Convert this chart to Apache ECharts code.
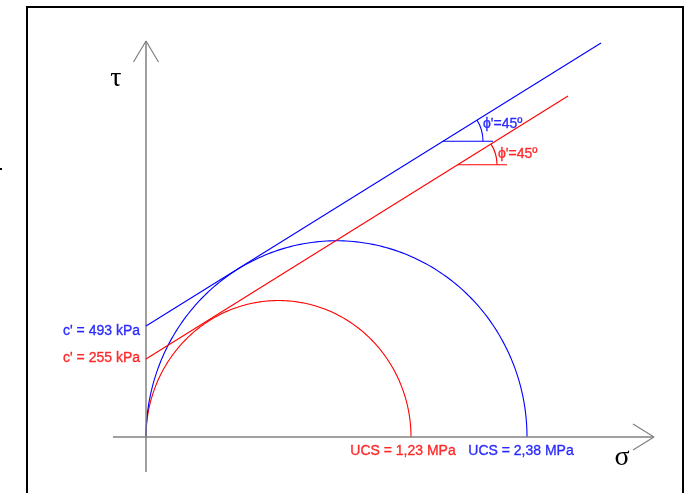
<!DOCTYPE html>
<html><head><meta charset="utf-8">
<style>html,body{margin:0;padding:0;background:#fff}#c{width:684px;height:493px}</style>
<script src="https://cdn.jsdelivr.net/npm/echarts@6/dist/echarts.min.js"></script>
</head><body><div id="c"></div>
<script>
// Schematic Mohr diagram, values in drawing units (σ horizontal, τ vertical)
const ucsLabels = ['UCS = 1,23 MPa', 'UCS = 2,38 MPa'];
const cohesionLabels = ["c' = 255 kPa", "c' = 493 kPa"];
const phiLabels = ["ϕ'=45º", "ϕ'=45º"];
const circleDiameters = [265, 381];          // σ1 = UCS, σ3 = 0
const envelopeRed = [[0, 75.7], [422, 331]];
const envelopeBlue = [[0, 107.8], [455, 382.5]];
const angleVertex = [[312, 264.3], [297, 287.2]];
const angleRefEndX = [361, 347];
const angleArcRadius = [39, 40];
const sigmaAxis = [[-33, 0], [508, 0]];
const sigmaArrow = [[487, 12.6], [508, 0], [487, -12.6]];
const tauAxis = [[0, -34], [0, 384.5]];
const tauArrow = [[-12.5, 364.1], [0, 384.5], [12.5, 364.1]];

const COLORS = ['#ff0000', '#0000ff'];
const AXIS_COLOR = '#808080';
const FONT = '"Liberation Sans", Arial, sans-serif';
const envelopes = [envelopeRed, envelopeBlue];

const chart = echarts.init(document.getElementById('c'), null, {renderer: 'canvas'});

function lineSeries(data, color, width) {
  return {type: 'line', data: data, symbol: 'none', silent: true, clip: false,
    lineStyle: {color: color, width: width}, z: 3};
}

const series = [];
series.push(lineSeries(sigmaAxis, AXIS_COLOR, 1.5));
series.push(lineSeries(sigmaArrow, AXIS_COLOR, 1.2));
series.push(lineSeries(tauAxis, AXIS_COLOR, 1.5));
series.push(lineSeries(tauArrow, AXIS_COLOR, 1.2));
envelopes.forEach((e, i) => series.push(lineSeries(e, COLORS[i], 1.1)));
angleVertex.forEach((v, i) => series.push(lineSeries([v, [angleRefEndX[i], v[1]]], COLORS[i], 1.1)));

// Mohr circles (upper halves)
series.push({
  type: 'custom', silent: true, clip: false, z: 2,
  data: circleDiameters.map(d => [d / 2, 0, d / 2]),
  renderItem: function (params, api) {
    const cx = api.value(0), r = api.value(2);
    const pts = [];
    for (let k = 0; k <= 180; k++) {
      const a = Math.PI * k / 180;
      pts.push(api.coord([cx + r * Math.cos(a), r * Math.sin(a)]));
    }
    return {type: 'polyline', shape: {points: pts},
      style: {stroke: COLORS[params.dataIndex], fill: null, lineWidth: 1.1}};
  }
});

// Friction-angle arcs
series.push({
  type: 'custom', silent: true, clip: false, z: 3,
  data: angleVertex.map((v, i) => [v[0], v[1], angleArcRadius[i]]),
  renderItem: function (params, api) {
    const i = params.dataIndex;
    const c = api.coord([api.value(0), api.value(1)]);
    const r = api.size([api.value(2), 0])[0];
    const e = envelopes[i];
    const p0 = api.coord(e[0]), p1 = api.coord(e[1]);
    const th = Math.atan2(p0[1] - p1[1], p1[0] - p0[0]);
    return {type: 'arc', shape: {cx: c[0], cy: c[1], r: r, startAngle: -th, endAngle: 0, clockwise: true},
      style: {stroke: COLORS[i], fill: null, lineWidth: 1.1}};
  }
});

function labelSeries(points, texts, offsets, align) {
  return {
    type: 'scatter', symbolSize: 0, silent: true, z: 5,
    data: points.map((p, i) => ({
      value: p,
      label: {show: true, position: [0, 0], formatter: texts[i], color: COLORS[i],
        textBorderColor: COLORS[i], textBorderWidth: 0.35,
        fontFamily: FONT, fontSize: 14, align: align, verticalAlign: 'middle', offset: offsets[i]}
    }))
  };
}
series.push(labelSeries(envelopes.map(e => e[0]), cohesionLabels, [[-6, -1], [-6, 5]], 'right'));
series.push(labelSeries(circleDiameters.map(d => [d, 0]), ucsLabels, [[-8, 14], [-6, 14]], 'center'));
series.push(labelSeries(angleVertex, phiLabels, [[40, -11], [40, -17.5]], 'left'));

chart.setOption({
  animation: false,
  backgroundColor: '#ffffff',
  grid: {left: 0, right: 0, top: 0, bottom: 0},
  xAxis: {type: 'value', min: -146, max: 538, show: false},
  yAxis: {type: 'value', min: -54.37, max: 424.27, show: false},
  graphic: [
    {type: 'rect', shape: {x: 27, y: 7, width: 656, height: 500},
      style: {stroke: '#000', lineWidth: 2, fill: null}, silent: true, z: 10},
    {type: 'rect', shape: {x: 0, y: 168, width: 2, height: 2}, style: {fill: '#000'}, silent: true},
    {type: 'text', x: 116, y: 79, style: {text: 'τ', font: '28px "Liberation Serif", "Times New Roman", serif',
      fill: '#000', align: 'center', verticalAlign: 'middle'}, silent: true},
    {type: 'text', x: 622, y: 458, style: {text: 'σ', font: '28px "Liberation Serif", "Times New Roman", serif',
      fill: '#000', align: 'center', verticalAlign: 'middle'}, silent: true}
  ],
  series: series
});
</script></body></html>
